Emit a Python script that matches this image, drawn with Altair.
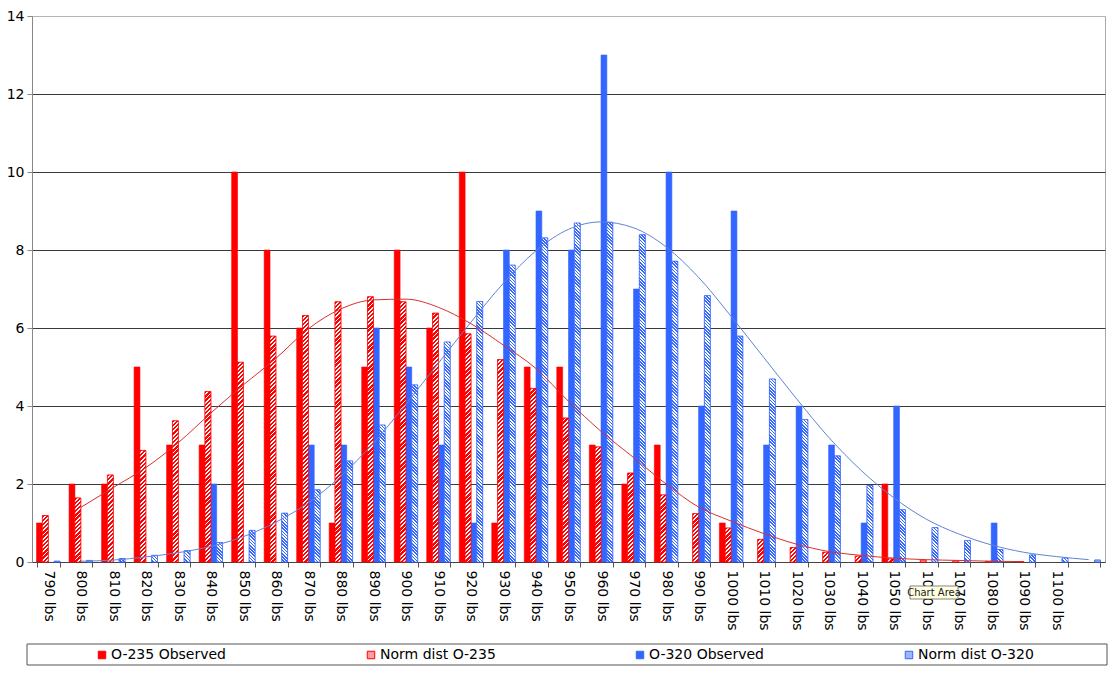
import altair as alt

# ---------------- data ----------------
categories = ["790 lbs", "800 lbs", "810 lbs", "820 lbs", "830 lbs", "840 lbs", "850 lbs",
              "860 lbs", "870 lbs", "880 lbs", "890 lbs", "900 lbs", "910 lbs", "920 lbs",
              "930 lbs", "940 lbs", "950 lbs", "960 lbs", "970 lbs", "980 lbs", "990 lbs",
              "1000 lbs", "1010 lbs", "1020 lbs", "1030 lbs", "1040 lbs", "1050 lbs",
              "1060 lbs", "1070 lbs", "1080 lbs", "1090 lbs", "1100 lbs", ""]

o235_observed = [1, 2, 2, 5, 3, 3, 10, 8, 6, 1, 5, 8, 6, 10, 1, 5, 5, 3, 2, 3, 0,
                 1, 0, 0, 0, 0, 2, 0, 0, 0, 0, 0, 0]
o235_norm = [1.19, 1.64, 2.23, 2.86, 3.62, 4.37, 5.12, 5.79, 6.32, 6.67, 6.80, 6.67,
             6.38, 5.85, 5.19, 4.45, 3.69, 2.95, 2.28, 1.72, 1.24, 0.87, 0.58, 0.37,
             0.25, 0.15, 0.08, 0.05, 0.03, 0.015, 0.01, 0.0, 0.0]
o320_observed = [0, 0, 0, 0, 0, 2, 0, 0, 3, 3, 6, 5, 3, 1, 8, 9, 8, 13, 7, 10, 4,
                 9, 3, 4, 3, 1, 4, 0, 0, 1, 0, 0, 0]
o320_norm = [0.02, 0.04, 0.09, 0.17, 0.29, 0.50, 0.81, 1.25, 1.85, 2.59, 3.51, 4.54,
             5.64, 6.68, 7.61, 8.31, 8.69, 8.71, 8.39, 7.71, 6.83, 5.79, 4.69, 3.65,
             2.72, 1.96, 1.34, 0.88, 0.55, 0.32, 0.18, 0.10, 0.05]

# smooth curves (None = no point in that category)
o235_curve = [None, 1.40, 1.91, 2.42, 3.06, 3.82, 4.54, 5.22, 5.98, 6.49, 6.72, 6.74,
              6.53, 6.11, 5.56, 4.96, 4.12, 3.35, 2.68, 2.00, 1.41, 1.05, 0.73, 0.46,
              0.27, 0.17, 0.10, 0.06, 0.04, 0.02, 0.01, None, None]
o320_curve = [None, 0.02, 0.05, 0.13, 0.24, 0.40, 0.65, 1.02, 1.52, 2.20, 3.05, 4.05,
              5.10, 6.15, 7.15, 7.98, 8.53, 8.72, 8.57, 8.08, 7.30, 6.30, 5.25, 4.20,
              3.20, 2.35, 1.65, 1.10, 0.72, 0.44, 0.25, 0.14, 0.06]

series_names = ["O-235 Observed", "Norm dist O-235", "O-320 Observed", "Norm dist O-320"]
y_ticks = [0, 2, 4, 6, 8, 10, 12, 14]

# ---------------- layout / style ----------------
FONT = "DejaVu Sans"
W, H = 1073, 546
Y_MAX = 14
PAD_INNER = 0.28
RED, BLUE = "#ff0000", "#3366ff"
RED_LIGHT, BLUE_LIGHT = "#ff9c9c", "#9db6f7"

step = W / len(categories)
bar_w = step * (1 - PAD_INNER) / 4
unit = H / Y_MAX


def hatch_paint(value, ink, paper, period, ink_frac, rising, fallback):
    """Diagonal stripes drawn with a hard-stop linear gradient."""
    h = value * unit
    if h < 3:
        return fallback
    a = bar_w / h
    s = (1 + a) / (1 + a * a)
    dt = period / (h + bar_w)
    stops = []
    t = 0.0
    while t < 1:
        tm = min(t + dt * ink_frac, 1)
        te = min(t + dt, 1)
        stops += [{"offset": round(t, 4), "color": ink},
                  {"offset": round(tm, 4), "color": ink},
                  {"offset": round(tm, 4), "color": paper},
                  {"offset": round(te, 4), "color": paper}]
        t += dt
    if rising:
        x1, y1, x2, y2 = 0, 0, a * s, s
    else:
        x1, y1, x2, y2 = 1, 0, 1 - a * s, s
    return {"gradient": "linear", "x1": x1, "y1": y1, "x2": x2, "y2": y2, "stops": stops}


series_values = [o235_observed, o235_norm, o320_observed, o320_norm]
bar_rows = []
for name, vals in zip(series_names, series_values):
    for c, v in zip(categories, vals):
        bar_rows.append({"category": c, "series": name, "value": v})

hatch_rows = []
for c, v in zip(categories, o235_norm):
    if v > 0:
        hatch_rows.append({"category": c, "series": series_names[1], "value": v,
                           "paint": hatch_paint(v, RED, "#ffffff", 4.2, 0.55, True, RED_LIGHT),
                           "edge": RED})
for c, v in zip(categories, o320_norm):
    if v > 0:
        hatch_rows.append({"category": c, "series": series_names[3], "value": v,
                           "paint": hatch_paint(v, BLUE, "#ffffff", 3.2, 0.5, False, BLUE_LIGHT),
                           "edge": BLUE})

curve_rows = []
for name, vals in [("O-235 curve", o235_curve), ("O-320 curve", o320_curve)]:
    for c, v in zip(categories, vals):
        if v is not None:
            curve_rows.append({"category": c, "curve": name, "value": v})

x_scale = alt.Scale(domain=categories, paddingInner=PAD_INNER, paddingOuter=PAD_INNER / 2)
xo_scale = alt.Scale(domain=series_names, paddingInner=0, paddingOuter=0)
y_scale = alt.Scale(domain=[0, Y_MAX], nice=False, zero=True)

x_enc = alt.X("category:N", scale=x_scale, title=None,
              axis=alt.Axis(labelAngle=90, labelFontSize=14, labelFont=FONT, labelColor="#000",
                            labelPadding=3, tickBand="extent", tickSize=5, tickColor="#555",
                            domainColor="#444", grid=False, labelOverlap=False))
y_enc = alt.Y("value:Q", scale=y_scale, title=None,
              axis=alt.Axis(values=y_ticks, labelFontSize=14, labelFont=FONT, labelColor="#000",
                            labelPadding=3, tickSize=5, tickColor="#888", domainColor="#888",
                            grid=True,
                            gridColor={"condition": {"test": "datum.value >= 14", "value": "#b4b4b4"},
                                       "value": "#3a3a3a"},
                            gridWidth=1))

legend = alt.Legend(title=None, orient="none", legendX=63, legendY=632, direction="horizontal",
                    columns=4, columnPadding=137, gridAlign="all", symbolType="square",
                    symbolSize=56, symbolStrokeWidth=1, labelFontSize=14, labelFont=FONT,
                    labelColor="#000", labelOffset=2, padding=0)

bars = alt.Chart(alt.Data(values=bar_rows)).transform_filter("datum.value > 0").mark_bar(
    strokeWidth=0.6
).encode(
    x=x_enc,
    xOffset=alt.XOffset("series:N", scale=xo_scale),
    y=y_enc,
    fill=alt.Fill("series:N", scale=alt.Scale(domain=series_names,
                                              range=[RED, RED_LIGHT, BLUE, BLUE_LIGHT]),
                  legend=legend),
    stroke=alt.Stroke("series:N", scale=alt.Scale(domain=series_names,
                                                  range=[RED, RED, BLUE, BLUE]),
                      legend=legend),
)

hatch = alt.Chart(alt.Data(values=hatch_rows)).mark_bar(strokeWidth=0.7).encode(
    x=alt.X("category:N", scale=x_scale),
    xOffset=alt.XOffset("series:N", scale=xo_scale),
    y=alt.Y("value:Q", scale=y_scale),
    fill=alt.Fill("paint:N", scale=None),
    stroke=alt.Stroke("edge:N", scale=None),
)

curve_base = alt.Chart(alt.Data(values=curve_rows))
red_curve = curve_base.transform_filter("datum.curve == 'O-235 curve'").mark_line(
    color="#d9302c", strokeWidth=1, interpolate="monotone"
).encode(x=alt.X("category:N", scale=x_scale), y=alt.Y("value:Q", scale=y_scale))
blue_curve = curve_base.transform_filter("datum.curve == 'O-320 curve'").mark_line(
    color="#5f83d4", strokeWidth=1, interpolate="monotone"
).encode(x=alt.X("category:N", scale=x_scale), y=alt.Y("value:Q", scale=y_scale))

one = alt.Data(values=[{"note": "Chart Area"}])
legend_box = alt.Chart(one).mark_rect(fill="transparent", stroke="#555", strokeWidth=1).encode(
    x=alt.value(-5), x2=alt.value(1075), y=alt.value(628), y2=alt.value(649))
tip_box = alt.Chart(one).mark_rect(fill="#ffffe1", stroke="#666", strokeWidth=0.8).encode(
    x=alt.value(878), x2=alt.value(926), y=alt.value(570), y2=alt.value(583))
tip_text = alt.Chart(one).mark_text(font=FONT, fontSize=10, color="#222", align="center",
                                    baseline="middle").encode(
    x=alt.value(902), y=alt.value(576.5), text="note:N")

chart = alt.layer(bars, hatch, red_curve, blue_curve, legend_box, tip_box, tip_text).properties(
    width=W, height=H,
    padding={"left": 24, "top": 8, "right": 3, "bottom": 106},
    autosize=alt.AutoSizeParams(type="none"),
).configure(font=FONT, background="#ffffff").configure_view(stroke="#a8a8a8", strokeWidth=1)

chart.save("out.html", embed_options={"renderer": "svg", "actions": False})
